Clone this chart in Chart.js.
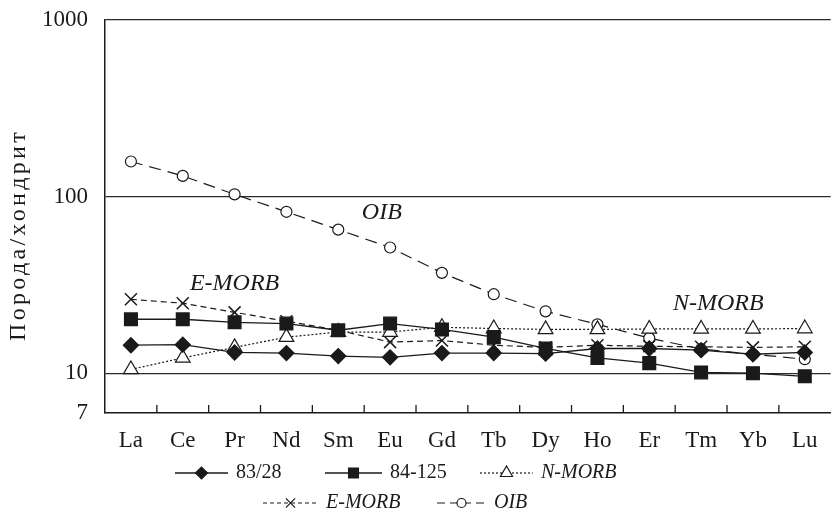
<!DOCTYPE html>
<html>
<head>
<meta charset="utf-8">
<script src="https://cdn.jsdelivr.net/npm/chart.js@4"></script>
<style>
  html, body { margin: 0; padding: 0; background: #fff; }
  #wrap { width: 832px; height: 518px; overflow: hidden; }
</style>
</head>
<body>
<div id="wrap"><canvas id="myChart" width="841" height="518"></canvas></div>
<script>
// REE names on the x axis
const elements = ['La', 'Ce', 'Pr', 'Nd', 'Sm', 'Eu', 'Gd', 'Tb', 'Dy', 'Ho', 'Er', 'Tm', 'Yb', 'Lu'];

// chondrite normalised values
const s8328  = [14.4, 14.5, 13.1, 13.0, 12.5, 12.3, 13.0, 13.0, 12.9, 13.8, 13.8, 13.5, 12.8, 13.1];
const s84125 = [20.2, 20.2, 19.4, 19.1, 17.5, 19.1, 17.7, 16.0, 13.8, 12.2, 11.4, 10.1, 10.0, 9.6];
const nmorb  = [10.5, 12.2, 14.0, 16.0, 17.1, 17.1, 18.2, 17.9, 17.7, 17.7, 17.8, 17.8, 17.8, 17.9];
const emorb  = [26.2, 24.9, 22.1, 19.7, 17.5, 15.0, 15.3, 14.4, 14.0, 14.4, 14.2, 14.1, 14.0, 14.1];
const oib    = [158, 131, 103, 82, 65, 51.5, 37, 28, 22.4, 18.9, 15.8, 13.7, 12.8, 12.0];

// y ticks (bottom of the axis is labelled 7 in the original)
const yTicks = [10, 100, 1000];
const yBottomLabel = '7';
const yTitle = 'Порода/хондрит';

// in-plot labels: [text, category index, value]
const notes = [['OIB', 4.84, 81], ['E-MORB', 2.0, 32.3], ['N-MORB', 11.33, 24.8]];

const serif = '"Liberation Serif", "Times New Roman", serif';
const ink = '#1a1a1a';

//Inward tick marks between categories, in-plot labels, y title
const extras = {
    id: 'extras',
    afterDraw(chart) {
        const ctx = chart.ctx;
        const xs = chart.scales.x, ys = chart.scales.y;
        const area = chart.chartArea;
        ctx.save();
        ctx.strokeStyle = ink;
        ctx.lineWidth = 1.3;
        for (let i = 0; i < elements.length - 1; i++) {
            const px = (xs.getPixelForValue(i) + xs.getPixelForValue(i + 1)) / 2;
            ctx.beginPath();
            ctx.moveTo(px, area.bottom);
            ctx.lineTo(px, area.bottom - 8);
            ctx.stroke();
        }
        ctx.fillStyle = ink;
        ctx.font = 'italic 24px ' + serif;
        ctx.textAlign = 'center';
        ctx.textBaseline = 'middle';
        notes.forEach(n => {
            const px = xs.getPixelForValue(0) + n[1] * (xs.getPixelForValue(1) - xs.getPixelForValue(0));
            ctx.fillText(n[0], px, ys.getPixelForValue(n[2]));
        });

        // rotated y title, a bit letter-spaced like the original
        ctx.translate(19, 235);
        ctx.rotate(-Math.PI / 2);
        ctx.font = '24px ' + serif;
        ctx.letterSpacing = '3.3px';
        ctx.fillText(yTitle, 0, 0);
        ctx.restore();
    }
};

//Legend drawn by hand: line sample with marker in the middle
const legendPos = [
    [0, 175, 228, 473, false],
    [1, 325, 382, 473, false],
    [2, 480, 533, 473, true],
    [3, 263, 318, 503, true],
    [4, 437, 486, 503, true]
];
const handLegend = {
    id: 'handLegend',
    afterDraw(chart) {
        const ctx = chart.ctx;
        ctx.save();
        legendPos.forEach(p => {
            const ds = chart.data.datasets[p[0]];
            ctx.strokeStyle = ink;
            ctx.lineWidth = ds.borderWidth;
            ctx.setLineDash(ds.legendDash || ds.borderDash || []);
            ctx.beginPath();
            ctx.moveTo(p[1], p[3]);
            ctx.lineTo(p[2], p[3]);
            ctx.stroke();
            ctx.setLineDash([]);
            ctx.fillStyle = ds.pointBackgroundColor;
            ctx.strokeStyle = ink;
            ctx.lineWidth = 1.2;
            Chart.helpers.drawPoint(ctx, {
                pointStyle: ds.pointStyle,
                radius: ds.legendRadius,
                rotation: 0,
                borderWidth: 1.2
            }, (p[1] + p[2]) / 2, p[3]);
            ctx.fillStyle = ink;
            ctx.font = (p[4] ? 'italic ' : '') + '20px ' + serif;
            ctx.textAlign = 'left';
            ctx.textBaseline = 'middle';
            ctx.fillText(ds.label, p[2] + 8, p[3]);
        });
        ctx.restore();
    }
};

const ctx = document.getElementById('myChart').getContext('2d');

const myChart = new Chart(ctx, {
    type: 'line',
    data: {
        labels: elements,
        datasets: [
            {
                label: '83/28', data: s8328,
                borderColor: ink, borderWidth: 1.3,
                pointStyle: 'rectRot', pointRadius: 7.5, legendRadius: 6,
                pointBackgroundColor: ink, pointBorderColor: ink
            },
            {
                label: '84-125', data: s84125,
                borderColor: ink, borderWidth: 1.3,
                pointStyle: 'rect', pointRadius: 9, legendRadius: 7,
                pointBackgroundColor: ink, pointBorderColor: ink
            },
            {
                label: 'N-MORB', data: nmorb,
                borderColor: ink, borderWidth: 1.2, borderDash: [2, 2],
                pointStyle: 'triangle', pointRadius: 8.5, legendRadius: 7,
                pointBackgroundColor: '#fff', pointBorderColor: ink, pointBorderWidth: 1.2
            },
            {
                label: 'E-MORB', data: emorb,
                borderColor: ink, borderWidth: 1.2, borderDash: [6, 4], legendDash: [4, 3],
                pointStyle: 'crossRot', pointRadius: 8.5, legendRadius: 6.5,
                pointBackgroundColor: ink, pointBorderColor: ink, pointBorderWidth: 1.5
            },
            {
                label: 'OIB', data: oib,
                borderColor: ink, borderWidth: 1.2, borderDash: [12, 7], legendDash: [8, 5],
                pointStyle: 'circle', pointRadius: 5.5, legendRadius: 4.5,
                pointBackgroundColor: '#fff', pointBorderColor: ink, pointBorderWidth: 1.2
            }
        ]
    },
    options: {
        responsive: false,
        animation: false,
        layout: { padding: { top: 20, left: 0, right: 0, bottom: 0 } },
        plugins: {
            legend: { display: false },
            tooltip: { enabled: false }
        },
        elements: { line: { tension: 0 } },
        scales: {
            x: {
                type: 'category',
                offset: true,
                grid: { display: false, drawTicks: false },
                border: { display: true, color: ink, width: 1.5 },
                ticks: { color: ink, font: { family: serif, size: 23 }, padding: 14, maxRotation: 0 },
                afterFit(scale) {
                    scale.height = 105;
                    scale.paddingLeft = 0;
                    scale.paddingRight = 0;
                }
            },
            y: {
                type: 'logarithmic',
                min: 5.95,
                max: 1000,
                afterBuildTicks(scale) {
                    scale.ticks = [{ value: 5.95 }].concat(yTicks.map(v => ({ value: v })));
                },
                grid: {
                    color: (c) => c.tick && c.tick.value < 10 ? 'rgba(0,0,0,0)' : '#2a2a2a',
                    lineWidth: 1.3,
                    drawTicks: false
                },
                border: { display: true, color: ink, width: 1.5 },
                ticks: {
                    color: ink,
                    font: { family: serif, size: 23 },
                    padding: 17,
                    callback: function(v) { return v < 10 ? yBottomLabel : String(v); }
                },
                afterFit(scale) {
                    scale.width = 105;
                    scale.paddingTop = 0;
                    scale.paddingBottom = 0;
                }
            }
        }
    },
    plugins: [extras, handLegend]
});
</script>
</body>
</html>
